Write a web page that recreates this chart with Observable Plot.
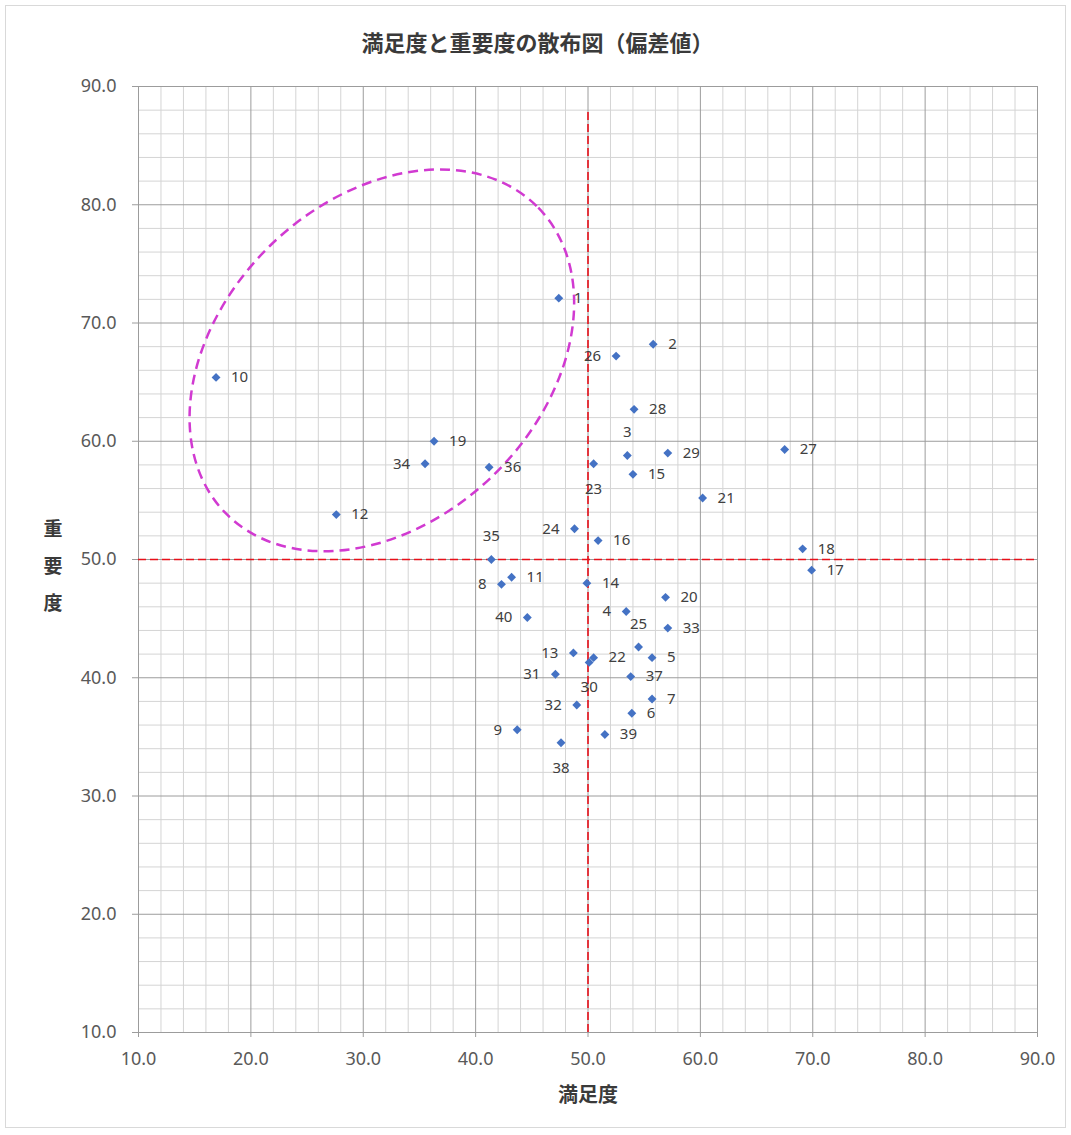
<!DOCTYPE html>
<html>
<head>
<meta charset="utf-8">
<script src="https://cdn.jsdelivr.net/npm/d3@7"></script>
<script src="https://cdn.jsdelivr.net/npm/@observablehq/plot@0.6"></script>
<style>
  html, body { margin: 0; padding: 0; background: #fff; }
  body { width: 1071px; height: 1135px; position: relative; overflow: hidden;
         font-family: "Noto Sans CJK JP", "Noto Sans", sans-serif; }
  #frame { position: absolute; left: 5px; top: 5px; width: 1059px; height: 1121px; border: 1px solid #d9d9d9; }
  #chart { position: absolute; left: 0; top: 0; }
  .lbl { position: absolute; color: #3a3a3a; font-weight: bold; white-space: nowrap; }
  #title { left: 0; width: 1075px; top: 28px; text-align: center; font-size: 22px; line-height: 26px; }
  #xlabel { left: 488px; width: 200px; top: 1082px; text-align: center; font-size: 20px; line-height: 24px; }
  #ylabel { left: 38px; width: 30px; top: 509px; text-align: center; font-size: 19px; line-height: 37px; }
</style>
</head>
<body>
<div id="frame"></div>
<div id="chart"></div>
<div id="title" class="lbl">満足度と重要度の散布図（偏差値）</div>
<div id="xlabel" class="lbl">満足度</div>
<div id="ylabel" class="lbl">重<br>要<br>度</div>
<script>
// ---- data ----
const ids = [1,2,3,4,5,6,7,8,9,10,11,12,13,14,15,16,17,18,19,20,21,22,23,24,25,26,27,28,29,30,31,32,33,34,35,36,37,38,39,40];
const satisfaction = [47.4,55.8,53.5,53.4,55.7,53.9,55.7,42.3,43.7,16.9,43.2,27.6,48.7,49.9,54.0,50.9,69.9,69.1,36.3,56.9,
                      60.2,50.5,50.5,48.8,54.5,52.5,67.5,54.1,57.1,50.1,47.1,49.0,57.1,35.5,41.4,41.2,53.8,47.6,51.5,44.6];
const importance   = [72.1,68.2,58.8,45.6,41.7,37.0,38.2,47.9,35.6,65.4,48.5,53.8,42.1,48.0,57.2,51.6,49.1,50.9,60.0,46.8,
                      55.2,41.7,58.1,52.6,42.6,67.2,59.3,62.7,59.0,41.3,40.3,37.7,44.2,58.1,50.0,57.8,40.1,34.5,35.2,45.1];
// label placement groups (as in the original chart)
const labelsLeft  = [4,8,9,13,24,26,31,32,34,40];
const labelsAbove = [3,25,35];
const labelsBelow = [23,30,38];

const majorTicks = [10,20,30,40,50,60,70,80,90];
const minorTicks = [12,14,16,18,22,24,26,28,32,34,36,38,42,44,46,48,52,54,56,58,62,64,66,68,72,74,76,78,82,84,86,88];

// reference lines (mean = 50) and highlighted group ellipse
const refX = [50];
const refY = [50];
const refXTop = 88;
const ellipseSpec = {cx: 31.7, cy: 66.8, rxUnits: 19.45, ryUnits: 14.25, angle: -44.3};

// ---- build table ----
const points = ids.map((id, i) => ({
  id, x: satisfaction[i], y: importance[i],
  pos: labelsLeft.includes(id) ? "left" : labelsAbove.includes(id) ? "above" : labelsBelow.includes(id) ? "below" : "right"
}));

const ellipseMark = (index, scales, values, dims, context) => {
  const cx = scales.x(ellipseSpec.cx);
  const cy = scales.y(ellipseSpec.cy);
  const rx = scales.x(ellipseSpec.cx + ellipseSpec.rxUnits) - cx;
  const ry = scales.x(ellipseSpec.cx + ellipseSpec.ryUnits) - cx;
  const g = d3.create("svg:g");
  g.append("ellipse")
    .attr("cx", cx).attr("cy", cy).attr("rx", rx).attr("ry", ry)
    .attr("transform", `rotate(${ellipseSpec.angle},${cx},${cy})`)
    .attr("fill", "none")
    .attr("stroke", "#d13ad1")
    .attr("stroke-width", 2.5)
    .attr("stroke-dasharray", "10,6");
  return g.node();
};

const fmt = d => d.toFixed(1);
const labelFont = {fontSize: 15, fill: "#404040", fontFamily: "'Noto Sans', sans-serif"};

const chart = Plot.plot({
  width: 1071,
  height: 1135,
  marginLeft: 138,
  marginRight: 34,
  marginTop: 86,
  marginBottom: 103,
  style: {background: "transparent", fontFamily: "'Noto Sans', sans-serif", fontSize: "18px"},
  x: {domain: [10, 90]},
  y: {domain: [10, 90]},
  marks: [
    Plot.gridX(minorTicks, {stroke: "#d4d4d4", strokeOpacity: 1}),
    Plot.gridY(minorTicks, {stroke: "#d4d4d4", strokeOpacity: 1}),
    Plot.gridX(majorTicks, {stroke: "#9c9c9c", strokeOpacity: 1}),
    Plot.gridY(majorTicks, {stroke: "#9c9c9c", strokeOpacity: 1}),
    Plot.axisX(majorTicks, {tickSize: 5, tickPadding: 15, tickFormat: fmt, color: "#595959", stroke: "#9c9c9c", fontSize: 18, label: null}),
    Plot.axisY(majorTicks, {tickSize: 6, tickPadding: 16, tickFormat: fmt, color: "#595959", stroke: "#9c9c9c", fontSize: 18, label: null}),
    ellipseMark,
    Plot.ruleY(refY, {stroke: "#e8101a", strokeWidth: 1.6, strokeDasharray: "8,4", x1: 10, x2: 90}),
    Plot.ruleX(refX, {stroke: "#e8101a", strokeWidth: 1.6, strokeDasharray: "8,4", y1: 10, y2: refXTop}),
    Plot.dot(points, {x: "x", y: "y", symbol: "diamond2", r: 4, fill: "#4472c4", stroke: null}),
    Plot.text(points.filter(d => d.pos === "right"), {x: "x", y: "y", text: "id", textAnchor: "start", dx: 15, ...labelFont}),
    Plot.text(points.filter(d => d.pos === "left"), {x: "x", y: "y", text: "id", textAnchor: "end", dx: -15, ...labelFont}),
    Plot.text(points.filter(d => d.pos === "above"), {x: "x", y: "y", text: "id", dy: -23, ...labelFont}),
    Plot.text(points.filter(d => d.pos === "below"), {x: "x", y: "y", text: "id", dy: 25, ...labelFont})
  ]
});
document.getElementById("chart").appendChild(chart);
</script>
</body>
</html>
